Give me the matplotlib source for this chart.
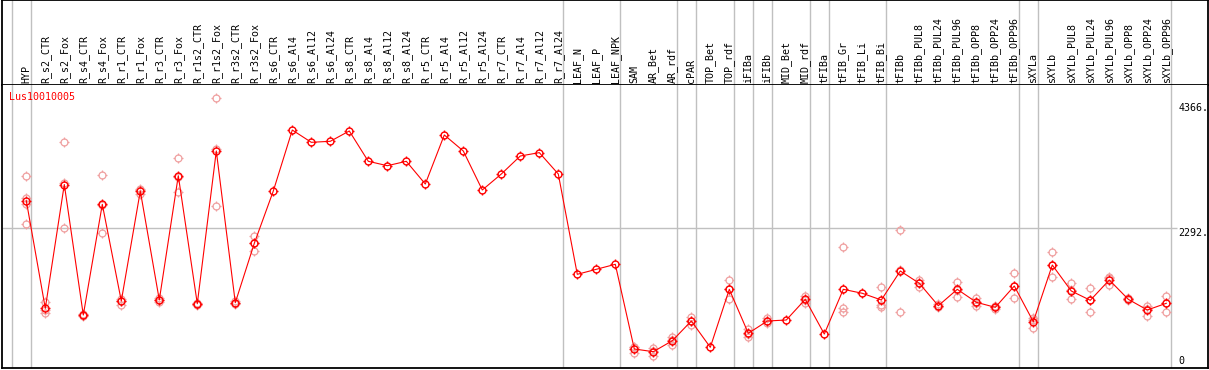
import matplotlib.pyplot as plt
import numpy as np
from matplotlib.path import Path
from matplotlib.transforms import blended_transform_factory

# column labels (one per sample)
labels = ["HYP",
          "R_s2_CTR", "R_s2_Fox", "R_s4_CTR", "R_s4_Fox", "R_r1_CTR", "R_r1_Fox",
          "R_r3_CTR", "R_r3_Fox", "R_r1s2_CTR", "R_r1s2_Fox", "R_r3s2_CTR", "R_r3s2_Fox",
          "R_s6_CTR", "R_s6_Al4", "R_s6_Al12", "R_s6_Al24",
          "R_s8_CTR", "R_s8_Al4", "R_s8_Al12", "R_s8_Al24",
          "R_r5_CTR", "R_r5_Al4", "R_r5_Al12", "R_r5_Al24",
          "R_r7_CTR", "R_r7_Al4", "R_r7_Al12", "R_r7_Al24",
          "LEAF_N", "LEAF_P", "LEAF_NPK",
          "SAM", "AR_Bet", "AR_rdf",
          "cPAR",
          "TOP_Bet", "TOP_rdf",
          "iFIBa", "iFIBb",
          "MID_Bet", "MID_rdf",
          "tFIBa",
          "tFIB_Gr", "tFIB_Li", "tFIB_Bi",
          "tFIBb", "tFIBb_PUL8", "tFIBb_PUL24", "tFIBb_PUL96", "tFIBb_OPP8", "tFIBb_OPP24", "tFIBb_OPP96",
          "sXYLa",
          "sXYLb", "sXYLb_PUL8", "sXYLb_PUL24", "sXYLb_PUL96", "sXYLb_OPP8", "sXYLb_OPP24", "sXYLb_OPP96"]

# how many columns in each group (grey separators between groups)
group_sizes = [1, 28, 3, 3, 1, 2, 1, 1, 2, 1, 3, 7, 1, 7]

# mean expression per column
means = [2749, 964, 3018, 853, 2689, 1085, 2910, 1102, 3164, 1040, 3574, 1057, 2042,
         2910, 3922, 3718, 3735, 3906, 3403, 3330, 3403, 3026, 3840, 3574, 2927, 3192, 3491, 3547, 3192,
         1528, 1611, 1694,
         289, 244, 426,
         753,
         317, 1279,
         549, 753,
         770, 1113,
         537,
         1279, 1213, 1102,
         1583, 1379, 1007, 1279, 1064, 980, 1334,
         742,
         1682, 1251, 1097, 1434, 1113, 936, 1047]

# single replicates per column
replicates = [[3159, 2789, 2694, 2358],
              [1064, 940, 891], [3718, 3045, 2291], [875, 840], [3176, 2683, 2208],
              [1118, 1085, 1019], [2944, 2930, 2856], [1130, 1102, 1070], [3453, 3150, 2889],
              [1060, 1040, 1020], [4448, 3608, 2666], [1080, 1057, 1030], [2164, 2042, 1920],
              [], [], [], [], [], [], [], [], [], [], [], [], [], [], [], [],
              [], [], [],
              [330, 320, 217], [300, 255, 178], [483, 440, 355],
              [815, 757, 687],
              [], [1429, 1290, 1118],
              [620, 545, 483], [798, 750, 715],
              [], [1168, 1110, 1060],
              [],
              [1976, 974, 898], [], [1312, 1019, 991],
              [2258, 1593, 898], [1434, 1379, 1323], [1030, 1007, 985], [1406, 1274, 1157],
              [1130, 1055, 1007], [1007, 980, 952], [1545, 1327, 1130],
              [808, 776, 642],
              [1893, 1675, 1478], [1379, 1261, 1113], [1296, 1097, 898], [1490, 1460, 1351],
              [1130, 1113, 1096], [1007, 960, 841], [1173, 1060, 908]]

gene = "Lus10010005"
y_labels = [4366, 2292, 0]

mono = "DejaVu Sans Mono"
grey = "#c0c0c0"
pink = "#f0a0a0"

# four little ticks around each circle
ticks = Path([(0, 1), (0, 1.3), (0, -1), (0, -1.3), (1, 0), (1.3, 0), (-1, 0), (-1.3, 0)],
             [Path.MOVETO, Path.LINETO] * 4)
circ_size = 5.0
tick_size = circ_size * 1.3


def draw_marks(xs, ys, color, lw):
    ax.plot(xs, ys, linestyle="none", marker="o", markersize=circ_size,
            markerfacecolor="none", markeredgecolor=color, markeredgewidth=lw, zorder=3)
    ax.plot(xs, ys, linestyle="none", marker=ticks, markersize=tick_size,
            markeredgecolor=color, markeredgewidth=lw, zorder=3)


W, H = 1209, 370
fig = plt.figure(figsize=(W / 100, H / 100), dpi=100)
ax_head = fig.add_axes([1.5 / W, 1 - 85 / H, 1206.5 / W, 85 / H])
ax = fig.add_axes([1.5 / W, 2 / H, 1206.5 / W, 283 / H])

x = np.arange(len(labels))
xlim = ((1.5 - 26.3) / 19, (1208 - 26.3) / 19)
for a in (ax, ax_head):
    a.set_xlim(xlim)
    a.set_xticks([])
    a.set_yticks([])
    for s in a.spines.values():
        s.set_linewidth(1.3)
        s.set_color("black")
ax_head.set_ylim(0, 1)
ax.set_ylim(-26.5, 4669)
ax.spines["top"].set_visible(False)

# group separators
bounds = np.cumsum([0] + group_sizes) - 1 + 0.23
for b in bounds:
    ax.axvline(b, color=grey, lw=1, zorder=0)
    ax_head.axvline(b, color=grey, lw=1, zorder=0)

ax.hlines(2292, xlim[0], 60.55, color=grey, lw=1, zorder=0)

# column labels in the header
trans = blended_transform_factory(ax_head.transData, ax_head.transAxes)
for i, lab in enumerate(labels):
    ax_head.text(i, 0.025, lab, rotation=90, ha="center", va="bottom",
                 fontsize=7.2, family=mono, transform=trans)

# replicates, then mean line
for i, reps in enumerate(replicates):
    if reps:
        draw_marks([i] * len(reps), reps, pink, 0.9)
ax.plot(x, means, color="red", lw=0.8, zorder=3)
draw_marks(x, means, "red", 1.0)

ax.text(-0.91, 4470, gene, color="red", fontsize=7.2, family=mono, va="center", ha="left")

# value labels on the right
for v in y_labels:
    ax.text(60.62, v, f"{v}." if v else "0", fontsize=7.2, family=mono,
            va="top" if v else "bottom", ha="left")

fig.savefig("out.png", dpi=100)
